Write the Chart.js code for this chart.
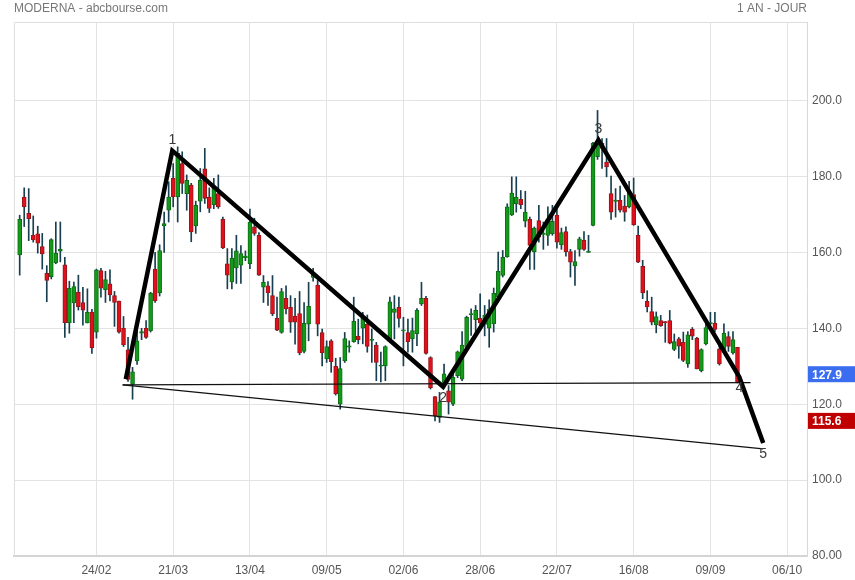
<!DOCTYPE html>
<html>
<head>
<meta charset="utf-8">
<script src="https://cdn.jsdelivr.net/npm/chart.js@4.4.0/dist/chart.umd.min.js"></script>
<style>
  html, body { margin: 0; padding: 0; background: #fff; }
  #wrap { width: 855px; height: 580px; }
</style>
</head>
<body>
<div id="wrap"><canvas id="chart"></canvas></div>
<script>
// daily candles, index 0 = first session shown
const tickLabels = ["24/02", "21/03", "13/04", "09/05", "02/06", "28/06", "22/07", "16/08", "09/09", "06/10"];
const tickStep = 17; // sessions between two date labels
const yTicks = [80, 100, 120, 140, 160, 180, 200];

const opens = [
  159.3,174.6,170.3,164.5,164.9,161.5,154.5,153.6,157.2,160.3,
  156.7,141.5,146.7,149.5,146.8,141.4,144.3,139.0,155.2,150.2,
  151.7,148.6,147.2,140.0,134.3,125.2,131.4,138.7,140.0,139.4,
  155.6,149.3,167.0,171.1,179.5,174.6,183.4,175.5,177.7,167.0,
  173.5,182.0,174.6,172.6,175.5,168.7,157.0,152.2,155.9,156.6,
  158.6,157.0,166.7,164.5,150.8,151.2,148.6,142.6,138.9,147.9,
  145.5,143.2,143.9,133.9,141.1,153.4,151.4,138.9,131.9,136.7,
  130.0,120.0,131.4,135.0,136.5,137.9,140.0,141.1,136.8,135.6,
  130.0,130.1,136.5,144.2,145.5,139.3,138.9,137.2,138.5,146.4,
  147.9,132.3,122.0,116.5,125.3,123.5,120.0,127.5,126.6,135.0,
  143.6,142.3,142.6,141.0,140.0,141.2,148.2,153.9,158.9,169.9,
  172.8,174.0,168.2,168.7,160.2,168.4,164.7,164.5,164.9,169.8,
  162.0,165.5,160.2,156.4,160.8,163.2,160.0,167.1,185.2,188.7,
  183.8,175.5,173.4,173.7,172.2,172.0,175.2,164.5,156.3,147.1,
  144.4,140.9,142.0,141.7,142.0,134.4,137.2,136.3,130.6,139.7,
  137.4,128.8,135.9,141.2,141.4,134.6,133.9,137.8,133.5,135.0
];
const highs = [
  169.8,177.0,176.8,169.6,166.9,165.0,156.5,163.6,168.0,168.0,
  158.7,152.4,152.2,154.0,150.8,150.4,145.0,155.6,155.8,155.0,
  155.4,149.7,147.2,143.1,137.6,129.7,141.0,140.0,142.0,149.5,
  160.0,162.0,170.6,178.6,183.4,187.8,186.5,180.4,178.2,173.5,
  182.1,187.4,177.0,179.5,180.4,169.3,161.0,161.0,164.5,161.8,
  160.4,171.4,169.0,165.2,153.9,152.3,153.9,148.2,150.5,151.2,
  148.6,147.9,149.7,146.8,152.1,155.8,152.6,139.8,136.7,137.0,
  132.1,132.3,138.9,136.7,148.2,142.4,144.2,143.5,139.8,136.3,
  133.7,135.4,148.2,148.6,148.2,142.9,142.4,142.7,145.2,152.1,
  148.4,132.5,122.0,123.1,130.6,124.9,127.9,134.0,139.1,143.2,
  145.1,146.0,149.1,146.0,147.5,150.6,160.1,160.5,172.8,179.9,
  179.9,176.3,176.1,169.3,166.7,172.4,168.0,172.0,172.4,171.5,
  166.4,166.7,160.8,160.5,164.0,165.5,164.5,189.0,197.4,190.0,
  190.0,180.1,176.8,177.5,175.0,178.7,179.6,166.9,157.9,149.9,
  148.2,144.3,143.4,141.8,144.7,138.5,137.6,139.0,139.1,140.2,
  137.6,134.6,141.4,144.2,144.2,136.3,141.2,139.1,139.1,135.0
];
const lows = [
  154.0,166.8,163.1,162.7,159.8,155.6,147.0,153.0,157.0,157.5,
  137.6,138.7,141.5,144.8,140.8,141.4,133.4,137.4,148.2,146.8,
  147.2,140.5,138.7,135.2,126.0,121.3,130.5,137.0,137.3,139.0,
  146.8,148.5,160.0,168.0,172.0,168.0,175.5,171.1,162.8,165.0,
  170.7,172.9,170.5,171.5,171.6,161.0,150.4,150.4,151.8,151.8,
  157.8,155.7,164.5,153.9,146.8,146.0,143.3,139.4,138.7,143.8,
  138.9,135.8,133.0,133.5,136.7,152.4,138.0,130.1,131.0,128.4,
  122.4,118.7,131.0,133.7,136.3,135.9,135.9,133.7,131.0,126.2,
  125.9,126.2,136.3,137.2,140.3,130.1,133.7,133.7,135.4,146.0,
  133.2,124.0,115.6,115.2,124.9,117.4,119.6,127.0,126.2,133.8,
  138.1,138.1,140.3,138.0,135.0,139.0,147.8,153.5,158.7,169.7,
  170.6,171.5,166.7,155.5,155.5,162.7,160.8,161.8,164.5,161.1,
  160.8,159.0,153.5,151.3,159.0,160.5,160.0,167.0,184.5,182.1,
  179.9,168.7,169.3,170.6,168.2,171.7,167.1,157.3,147.8,144.3,
  140.9,138.8,140.5,136.3,135.9,134.1,132.1,131.2,129.7,137.0,
  129.3,128.5,135.6,140.9,139.1,130.3,133.5,133.9,133.2,125.6
];
const closes = [
  168.7,172.0,168.9,163.3,162.4,159.6,152.6,163.4,159.8,160.8,
  141.5,150.5,151.0,145.7,144.8,144.2,134.8,155.4,150.6,152.8,
  148.8,146.8,139.0,135.6,126.5,128.5,136.7,139.1,137.6,149.3,
  147.2,160.5,167.6,174.6,174.6,186.1,178.2,179.0,165.4,172.4,
  179.0,174.2,171.6,177.0,172.0,161.2,154.0,158.5,160.4,159.7,
  159.0,168.0,165.0,154.0,152.1,149.3,143.8,139.5,149.7,145.1,
  141.6,141.6,133.5,141.3,145.8,154.6,141.1,133.5,135.2,131.2,
  122.7,129.4,137.3,135.4,141.8,137.0,142.6,135.2,137.0,131.0,
  130.2,135.2,147.0,145.1,142.6,139.5,136.5,139.4,144.7,147.9,
  133.4,124.3,117.0,120.6,128.0,120.5,127.1,133.8,135.6,142.9,
  143.9,144.7,141.4,143.5,145.0,149.2,155.0,158.7,172.0,175.6,
  174.6,172.6,170.6,161.8,166.4,164.0,165.0,168.8,168.2,162.7,
  165.2,160.2,157.4,157.6,163.6,160.8,160.3,188.7,188.7,187.4,
  182.5,170.6,173.8,171.1,170.6,175.9,167.3,157.4,149.3,145.6,
  141.6,143.1,140.7,141.5,136.1,136.5,135.3,131.5,138.3,137.9,
  129.3,134.4,140.2,141.5,139.7,130.6,138.7,135.2,137.0,125.8
];

// drawn wave (Elliott count) and the two thin trend lines
const waveX = [23.5, 33.8, 93.8, 128.2, 159.4, 164.7];
const waveY = [126.6, 186.8, 124.6, 189.6, 127.2, 109.8];
const waveNames = ["", "1", "2", "3", "4", "5"];
const flatX = [22.8, 161.9];
const flatY = [125.1, 125.7];
const slopeX = [22.8, 164.7];
const slopeY = [125.1, 108.2];

const tagTexts = ["127.9", "115.6"];
const tagValues = [127.9, 115.6];
const tagColors = ["#3a6df0", "#c00000"];

const UP = "#139a1b", DOWN = "#e2101b", WICK = "#173f4f";
const FONT = "'Liberation Sans', Arial, sans-serif";

const isUp = i => closes[i] >= opens[i];

const extras = {
  id: "extras",
  beforeDatasetsDraw(chart) {
    const { ctx, chartArea: a } = chart;
    ctx.save();
    ctx.strokeStyle = "#dedede";
    ctx.lineWidth = 1;
    ctx.beginPath();
    ctx.moveTo(a.left + 0.5, a.bottom);
    ctx.lineTo(a.left + 0.5, a.top + 0.5);
    ctx.lineTo(a.right, a.top + 0.5);
    ctx.stroke();
    ctx.restore();
  },
  afterDatasetsDraw(chart) {
    const { ctx, chartArea: a, scales } = chart;
    ctx.save();
    // wave numbers: above a top, below a bottom
    ctx.font = "14px " + FONT;
    ctx.fillStyle = "#3a3a3a";
    ctx.textAlign = "center";
    ctx.textBaseline = "middle";
    waveNames.forEach((name, i) => {
      if (!name) return;
      const px = scales.x.getPixelForValue(waveX[i]);
      const py = scales.y.getPixelForValue(waveY[i]);
      const peak = waveY[i] > waveY[i - 1];
      ctx.fillText(name, px, peak ? py - 11 : py + 11);
    });
    // price tags on the right axis
    ctx.font = "bold 12px " + FONT;
    ctx.textAlign = "left";
    tagTexts.forEach((t, i) => {
      const py = scales.y.getPixelForValue(tagValues[i]);
      ctx.fillStyle = tagColors[i];
      ctx.fillRect(a.right + 1, py - 8, chart.width - a.right - 1, 16);
      ctx.fillStyle = "#fff";
      ctx.fillText(t, a.right + 5, py + 1);
    });
    ctx.restore();
  },
  afterDraw(chart) {
    const { ctx, chartArea: a } = chart;
    ctx.save();
    ctx.font = "12px " + FONT;
    ctx.fillStyle = "#777";
    ctx.textBaseline = "middle";
    ctx.textAlign = "left";
    ctx.fillText("MODERNA - abcbourse.com", a.left, 9);
    ctx.textAlign = "right";
    ctx.fillText("1 AN - JOUR", a.right, 9);
    ctx.restore();
  }
};

new Chart(document.getElementById("chart"), {
  type: "bar",
  data: {
    datasets: [
      {
        type: "line",
        data: waveX.map((x, i) => ({ x, y: waveY[i] })),
        borderColor: "#000",
        borderWidth: 4.5,
        pointRadius: 0,
        order: 0
      },
      {
        type: "line",
        data: flatX.map((x, i) => ({ x, y: flatY[i] })),
        borderColor: "#111",
        borderWidth: 1.3,
        pointRadius: 0,
        order: 1
      },
      {
        type: "line",
        data: slopeX.map((x, i) => ({ x, y: slopeY[i] })),
        borderColor: "#111",
        borderWidth: 1.3,
        pointRadius: 0,
        order: 1
      },
      {
        data: opens.map((o, i) => ({ x: i, y: [o, closes[i]] })),
        backgroundColor: c => isUp(c.dataIndex) ? UP : DOWN,
        borderColor: c => isUp(c.dataIndex) ? "#0d6e13" : "#96141a",
        borderWidth: 1,
        borderSkipped: false,
        barThickness: 4,
        minBarLength: 1,
        grouped: false,
        order: 2
      },
      {
        data: lows.map((l, i) => ({ x: i, y: [l, highs[i]] })),
        backgroundColor: WICK,
        barThickness: 1,
        grouped: false,
        order: 3
      }
    ]
  },
  options: {
    responsive: true,
    maintainAspectRatio: false,
    animation: false,
    layout: { padding: { left: 14, top: 22, right: 0, bottom: 0 } },
    plugins: { legend: { display: false }, tooltip: { enabled: false } },
    scales: {
      x: {
        type: "linear",
        min: -1.26,
        max: 174.4,
        offset: false,
        afterBuildTicks: s => { s.ticks = tickLabels.map((t, k) => ({ value: (k + 1) * tickStep })); },
        afterFit: s => { s.height = 24; },
        grid: { color: "#e3e3e3", drawTicks: false, offset: false },
        border: { color: "#d4d4d4", width: 2 },
        ticks: {
          autoSkip: false,
          maxRotation: 0,
          padding: 7,
          color: "#555",
          font: { family: FONT, size: 12 },
          callback: v => tickLabels[Math.round(v / tickStep) - 1]
        }
      },
      y: {
        position: "right",
        min: 80,
        max: 220.7,
        afterBuildTicks: s => { s.ticks = yTicks.map(v => ({ value: v })); },
        afterFit: s => { s.width = 48; },
        grid: { color: "#e3e3e3", drawTicks: false },
        border: { color: "#d8d8d8", width: 1 },
        ticks: {
          padding: 5,
          color: "#555",
          font: { family: FONT, size: 12 },
          callback: v => Number(v).toPrecision(4)
        }
      }
    }
  },
  plugins: [extras]
});
</script>
</body>
</html>
